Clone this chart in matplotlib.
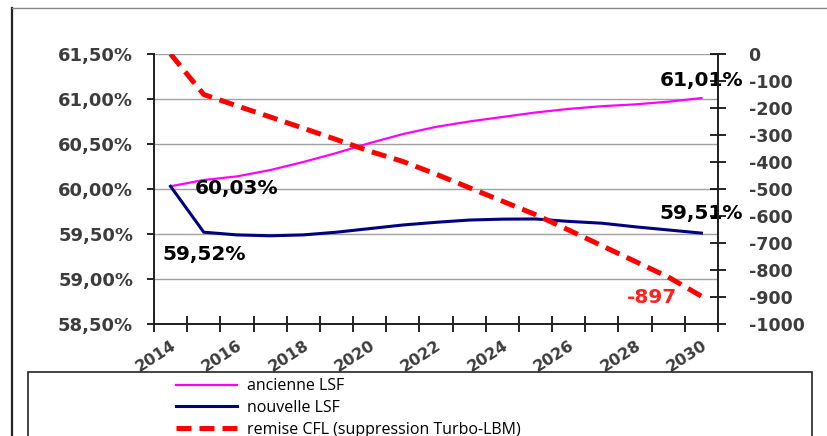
import matplotlib
matplotlib.use("Agg")
import matplotlib.pyplot as plt
from matplotlib.patches import Rectangle
from matplotlib.lines import Line2D
from matplotlib.ticker import FixedLocator, FuncFormatter

plt.rcParams["axes.unicode_minus"] = False

years = list(range(2014, 2031))
ancienne_lsf = [60.03, 60.10, 60.14, 60.21, 60.30, 60.40, 60.51, 60.61, 60.69,
                60.75, 60.80, 60.85, 60.89, 60.92, 60.94, 60.97, 61.01]
nouvelle_lsf = [60.03, 59.52, 59.49, 59.48, 59.49, 59.52, 59.56, 59.60, 59.63,
                59.655, 59.665, 59.667, 59.64, 59.62, 59.58, 59.545, 59.51]
remise_cfl = [0, -150, -192, -233, -275, -317, -360, -398, -445,
              -495, -545, -595, -652, -710, -768, -826, -897]

left_ticks = [58.5, 59.0, 59.5, 60.0, 60.5, 61.0, 61.5]
right_ticks = list(range(-1000, 1, 100))
year_labels = [2014, 2016, 2018, 2020, 2022, 2024, 2026, 2028, 2030]

tick_font = dict(family="DejaVu Sans", weight="bold", size=13, color="#3c3c3c")
note_font = dict(family="DejaVu Sans", weight="bold", size=14.5)

fig = plt.figure(figsize=(8.28, 4.36), dpi=100)
ax = fig.add_axes([154 / 828, 1 - 324 / 436, (718 - 154) / 828, (324 - 54) / 436])
ax2 = ax.twinx()

ax.plot(years, ancienne_lsf, color="#ff00ff", lw=1.6, label="ancienne LSF", zorder=3)
ax.plot(years, nouvelle_lsf, color="#000080", lw=2.2, label="nouvelle LSF", zorder=3)
ax2.plot(years, remise_cfl, color="#ff0000", lw=3.6, dashes=(3, 1.6),
         label="remise CFL (suppression Turbo-LBM)", zorder=3)

ax.set_xlim(2013.5, 2030.5)
ax.set_ylim(58.5, 61.5)
ax2.set_ylim(-1000, 0)

# horizontal grid on the percentage axis
for v in left_ticks[1:]:
    ax.axhline(v, color="#a0a0a0", lw=1.0, zorder=1)

ax.set_yticks(left_ticks)
ax.yaxis.set_major_formatter(FuncFormatter(lambda v, p: f"{v:.2f}%".replace(".", ",")))
ax.tick_params(axis="y", direction="out", length=5, width=1.2, pad=10)
for t in ax.get_yticklabels():
    t.set(**tick_font)

ax2.set_yticks(right_ticks)
ax2.tick_params(axis="y", direction="inout", length=12, width=1.2, pad=16)
for t in ax2.get_yticklabels():
    t.set(**tick_font)
    t.set_fontsize(12.5)

ax.set_xticks(year_labels)
ax.set_xticklabels([str(y) for y in year_labels], rotation=33, ha="right", va="top",
                   rotation_mode="anchor")
ax.tick_params(axis="x", length=0, pad=10)
ax.xaxis.set_minor_locator(FixedLocator([y + 0.5 for y in range(2013, 2031)]))
ax.tick_params(axis="x", which="minor", direction="inout", length=12, width=1.2)
for t in ax.get_xticklabels():
    t.set(**tick_font)
    t.set_fontsize(11.5)

for a in (ax, ax2):
    a.spines["top"].set_visible(False)
    for s in ("left", "right", "bottom"):
        a.spines[s].set_linewidth(1.3)
        a.spines[s].set_color("#222222")

ax.annotate("60,03%", (years[0], ancienne_lsf[0]), xytext=(24, -2),
            textcoords="offset pixels", ha="left", va="center", **note_font)
ax.annotate("59,52%", (years[1], nouvelle_lsf[1]), xytext=(0, -22),
            textcoords="offset pixels", ha="center", va="center", **note_font)
ax.annotate("61,01%", (years[-1], ancienne_lsf[-1]), xytext=(0, 18),
            textcoords="offset pixels", ha="center", va="center", zorder=5, **note_font)
ax.annotate("59,51%", (years[-1], nouvelle_lsf[-1]), xytext=(0, 20),
            textcoords="offset pixels", ha="center", va="center", zorder=5, **note_font)
ax2.annotate(f"{remise_cfl[-1]}", (years[-1], remise_cfl[-1]), xytext=(-24, -1),
             textcoords="offset pixels", ha="right", va="center", color="#ff2020",
             **note_font)

# outer frame of the chart area
fig.add_artist(Line2D([12 / 828, 12 / 828], [0, 1 - 8 / 436], color="#222222", lw=1.6))
fig.add_artist(Line2D([12 / 828, 1], [1 - 8 / 436, 1 - 8 / 436], color="#888888", lw=1.0))

# legend box running off the bottom edge
fig.add_artist(Rectangle((28 / 828, -0.05), (812 - 28) / 828, 0.05 + (436 - 372) / 436,
                         fill=False, edgecolor="#222222", lw=1.2))
handles = ax.get_lines()[:2] + ax2.get_lines()
leg = fig.legend(handles, [h.get_label() for h in handles], loc="upper left",
                 bbox_to_anchor=(170 / 828, 1 - 372 / 436), frameon=False,
                 prop=dict(family="Open Sans", size=11.5), handlelength=3.8,
                 handletextpad=0.6, labelspacing=0.35, borderaxespad=0)

fig.savefig("out.png", dpi=100)
